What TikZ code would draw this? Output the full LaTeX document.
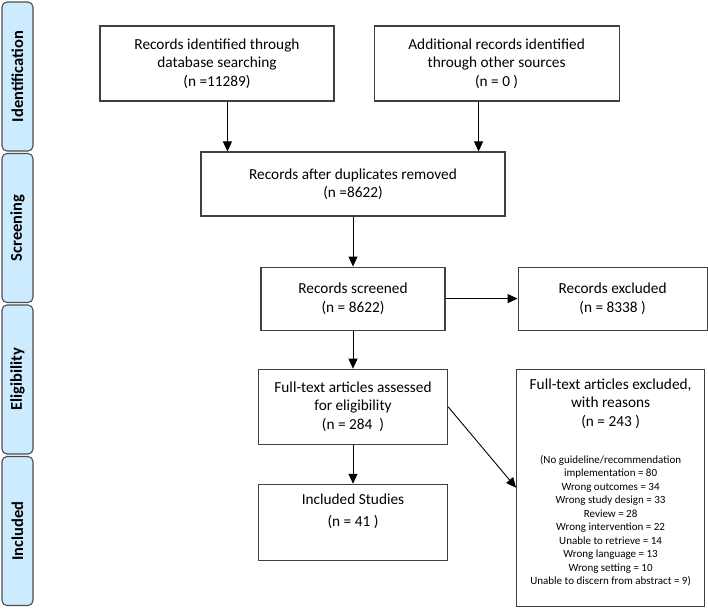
\documentclass[tikz,border=0pt]{standalone}
\usepackage{fontspec}
\setmainfont{Carlito}
\usetikzlibrary{positioning, arrows.meta}
\definecolor{phaseblue}{HTML}{CDEBFF}

\begin{document}
\begin{tikzpicture}[x=1pt, y=1pt,
	box/.style={draw=black!75, line width=1.1pt, align=center, inner sep=0pt, font=\fontsize{15.3}{18.5}\selectfont},
	phase/.style={draw=black!70, line width=1.1pt, fill=phaseblue, rounded corners=5pt, rotate=90, minimum width=149pt, minimum height=31pt, inner sep=0pt, font=\bfseries\fontsize{16.5}{18}\selectfont},
	arr/.style={-{Triangle[length=10pt, width=9pt]}, line width=0.9pt}]
	\useasboundingbox (0,0) rectangle (708,-608);
	
	\foreach \lbl [count=\i from 0] in {Identification, Screening, Eligibility, Included}
		\node[phase] (ph\i) at (17.5,-76.5-151.5*\i) {\lbl};
	
	\node[box, minimum width=234pt, minimum height=75pt] (ident) at (217,-63.5) {Records identified through\\database searching\\(n =11289)};
	\node[box, minimum width=245pt, minimum height=75pt, right=39pt of ident] (other) {Additional records identified\\through other sources\\(n = 0 )};
	\node[box, minimum width=304pt, minimum height=64pt] (dupl) at (353,-184) {Records after duplicates removed\\(n =8622)};
	\node[box, minimum width=184pt, minimum height=63pt, below=50pt of dupl] (scrn) {Records screened\\(n = 8622)};
	\node[box, minimum width=189pt, minimum height=63pt, right=72pt of scrn] (excl) {Records excluded\\(n = 8338 )};
	\node[box, minimum width=189pt, minimum height=75pt, below=38pt of scrn] (elig) {Full-text articles assessed\\for eligibility\\(n = 284~~)};
	\node[box, minimum width=189pt, minimum height=76pt, below=39pt of elig] (incl) {Included Studies\\[4pt](n = 41 )\\ \strut};
	\node[box, minimum width=188pt, minimum height=237pt, below right=0pt and 68pt of elig.north east] (reas) {Full-text articles excluded,\\with reasons\\(n = 243 )\\[18.5pt]{\fontsize{11}{13.5}\selectfont\begin{tabular}[t]{@{}c@{}}(No guideline/recommendation\\implementation = 80\\Wrong outcomes = 34\\Wrong study design = 33\\Review = 28\\Wrong intervention = 22\\Unable to retrieve = 14\\Wrong language = 13\\Wrong setting = 10\\Unable to discern from abstract = 9)\\[8pt]\end{tabular}}};
	
	\coordinate (inL) at ([xshift=27pt]dupl.north west);
	\coordinate (inR) at ([xshift=-27pt]dupl.north east);
	
	\draw[arr] (ident.south -| inL) -- (inL);
	\draw[arr] (other.south -| inR) -- (inR);
	\draw[arr] (dupl.south) -- (dupl.south |- scrn.north);
	\draw[arr] (scrn) -- (excl);
	\draw[arr] (scrn) -- (elig);
	\draw[arr] (elig) -- (incl);
	\draw[arr] (elig.east) -- (reas.west);
\end{tikzpicture}
\end{document}
